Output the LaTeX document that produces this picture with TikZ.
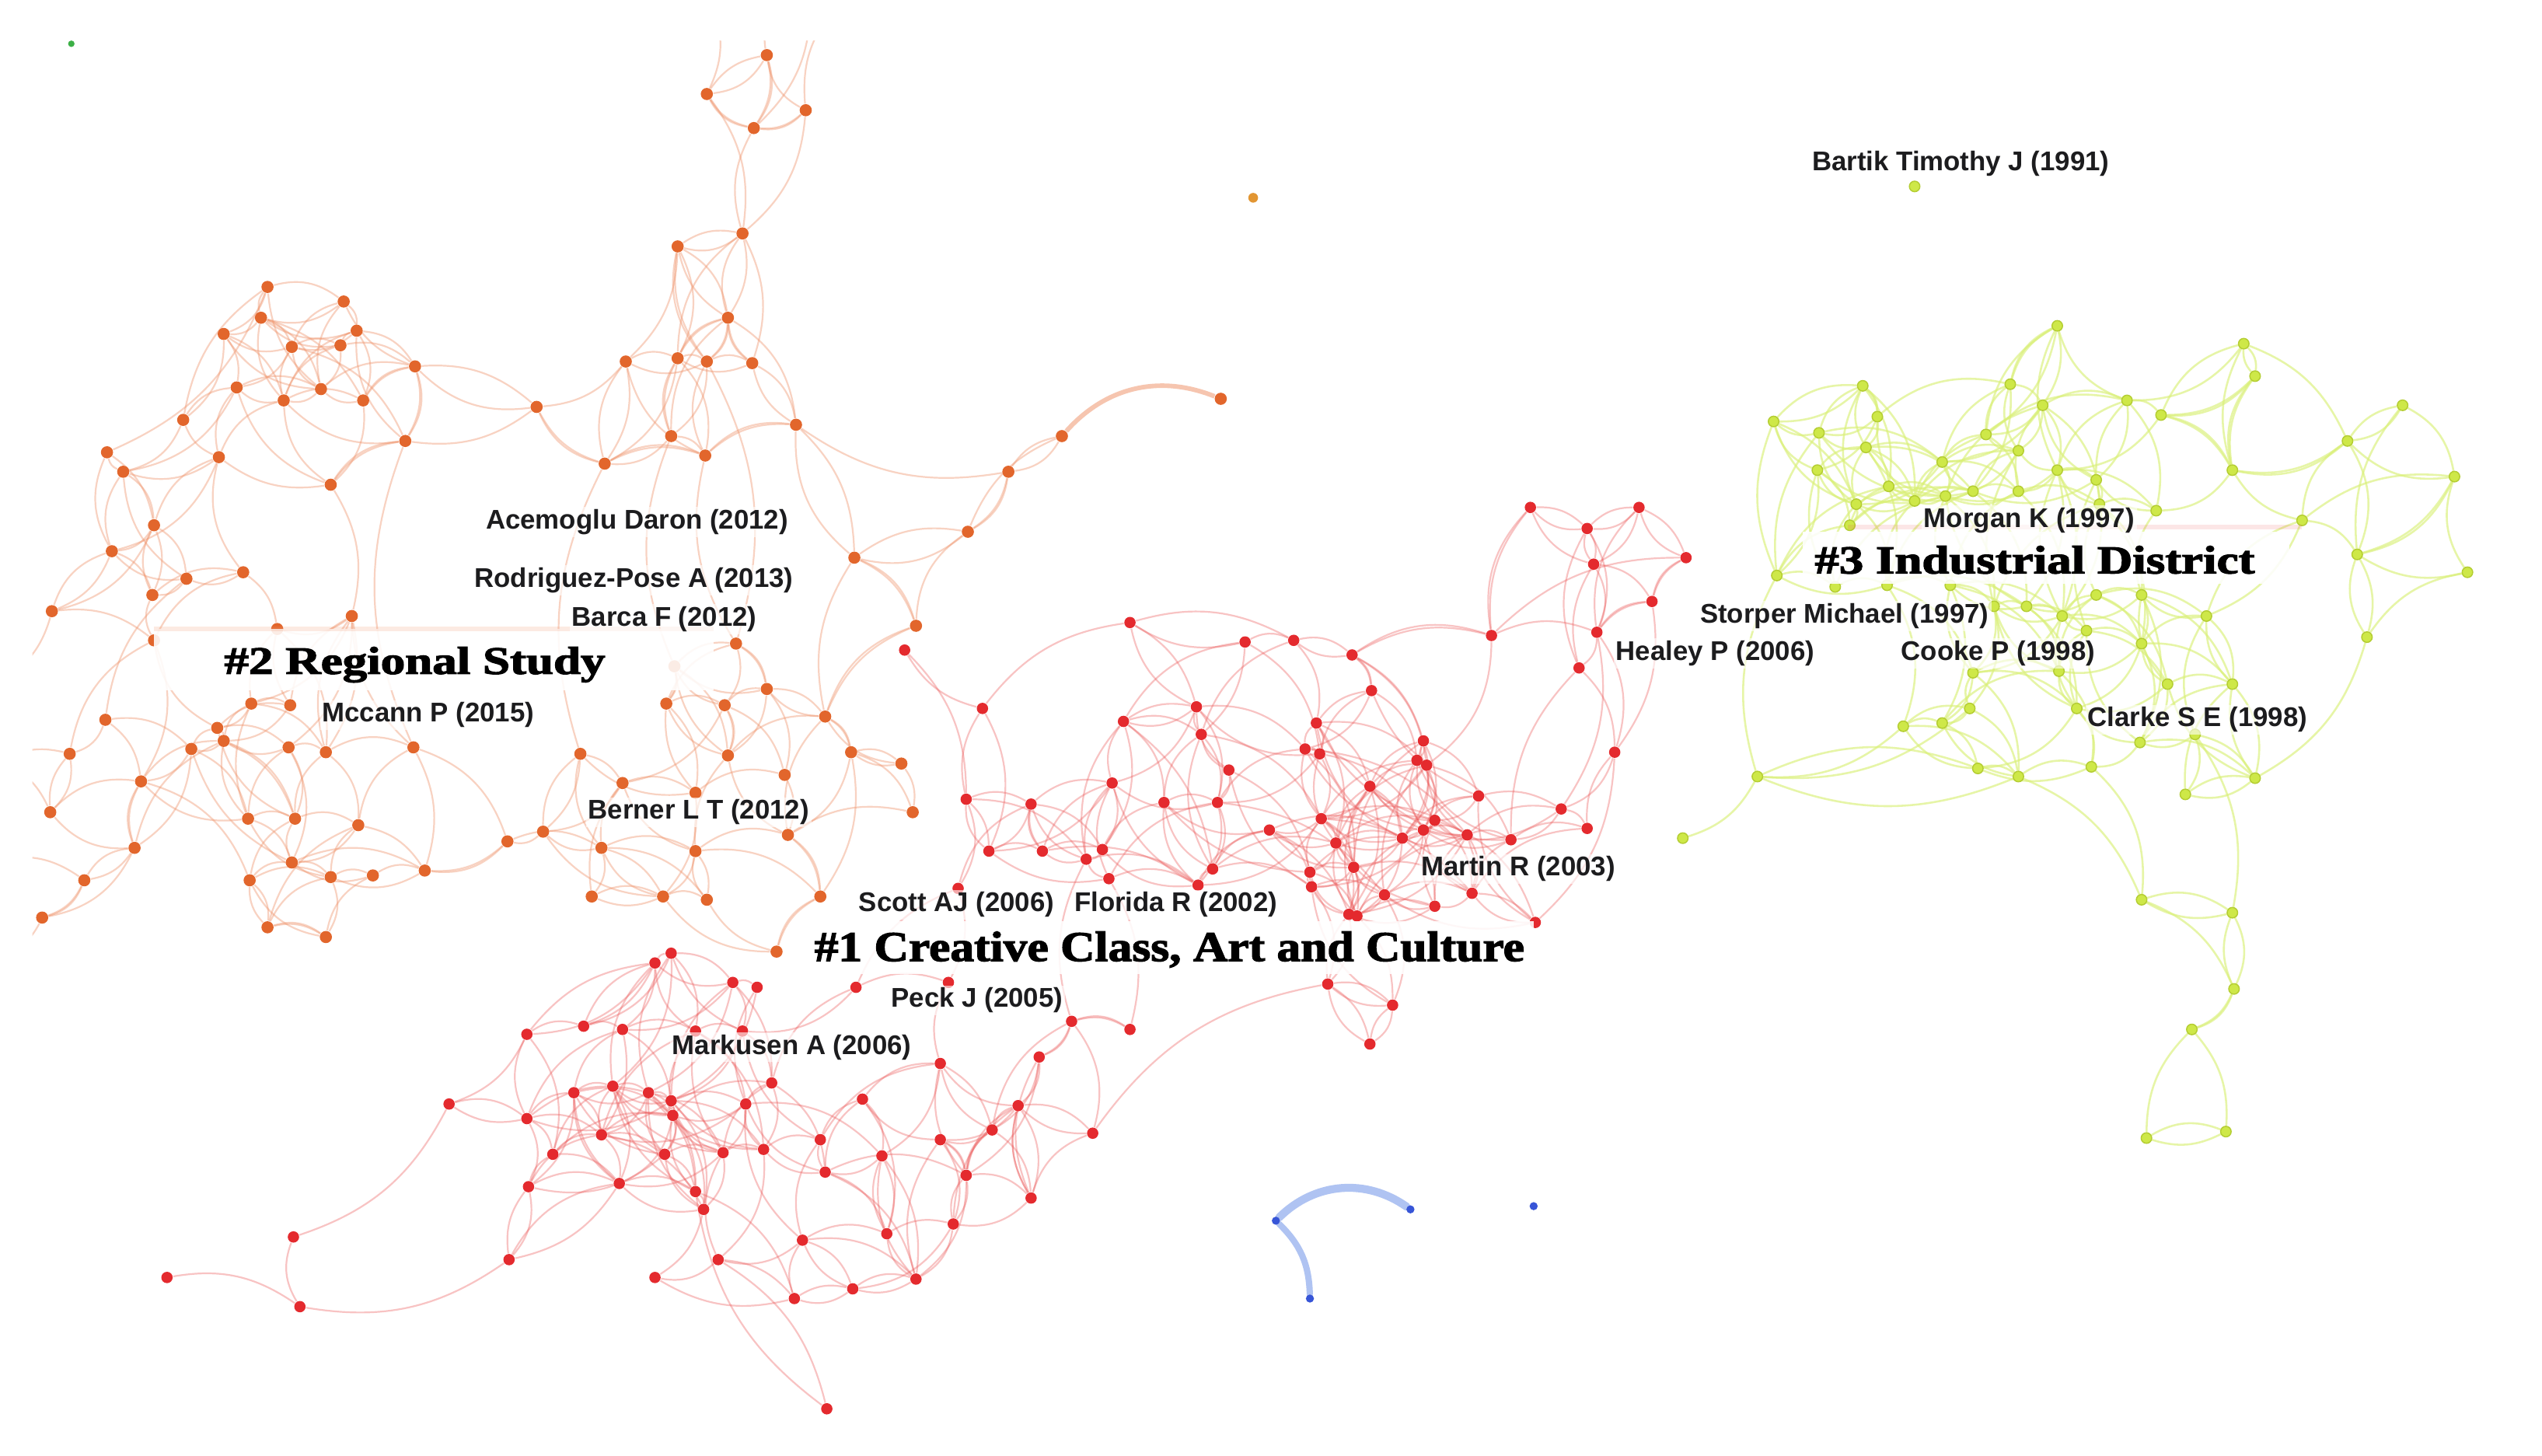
\documentclass[tikz,border=0pt]{standalone}
\usepackage{fontspec}
\setmainfont{Liberation Sans}
\newfontfamily\clusterfont[BoldFeatures={FakeBold=2.2}]{Liberation Serif}
\usepackage{graphicx}
\pgfdeclarelayer{bgl}
\pgfdeclarelayer{edges}
\pgfsetlayers{bgl,edges,main}
\definecolor{onode}{RGB}{226,102,44}
\definecolor{oedge}{RGB}{240,150,110}
\definecolor{rnode}{RGB}{228,42,46}
\definecolor{redge}{RGB}{236,90,90}
\definecolor{gnode}{RGB}{206,232,72}
\definecolor{gring}{RGB}{180,205,50}
\definecolor{gedge}{RGB}{218,240,120}
\definecolor{bnode}{RGB}{55,85,215}
\definecolor{bedge}{RGB}{175,195,242}
\definecolor{amber}{RGB}{226,150,50}
\definecolor{tinygreen}{RGB}{60,176,70}
\definecolor{labink}{RGB}{28,28,30}
\tikzset{
  odot/.style={circle,inner sep=0pt,minimum size=0.15cm,fill=onode},
  rdot/.style={circle,inner sep=0pt,minimum size=0.14cm,fill=rnode},
  gdot/.style={circle,inner sep=0pt,minimum size=0.13cm,fill=gnode,draw=gring,line width=0.4pt},
  bdot/.style={circle,inner sep=0pt,minimum size=0.10cm,fill=bnode},
  oe/.style={draw=oedge,line width=0.6pt,opacity=0.42},
  re/.style={draw=redge,line width=0.6pt,opacity=0.36},
  ge/.style={draw=gedge,line width=0.7pt,opacity=0.65},
  be/.style={draw=bedge,line width=2.8pt,line cap=round},
  reflab/.style={font=\fontsize{9.5}{10}\selectfont\bfseries,text=labink,fill=white,fill opacity=0.6,text opacity=1,inner sep=0.8pt,anchor=west},
  clab/.style={inner sep=0pt,anchor=base west,text=black},
  labbox/.style={fill=white,opacity=0.88},
}
% two-tier linking: short pairs mostly kept, longer pairs sometimes kept
\newcommand{\linkall}[6]{%
  \foreach \i in {#2,...,#3}{%
    \foreach \j in {#2,...,#3}{%
      \ifnum\j>\i\relax
        \pgfpointdiff{\pgfpointanchor{#1\i}{center}}{\pgfpointanchor{#1\j}{center}}%
        \pgfgetlastxy{\dx}{\dy}%
        \pgfmathsetmacro\dd{veclen(\dx,\dy)}%
        \ifdim\dd pt<#5pt\relax
          \pgfmathtruncatemacro\sk{mod(\i*7+\j*5,6)}%
          \def\keep{0}%
          \ifdim\dd pt<#4pt\relax \ifnum\sk>1\relax \def\keep{1}\fi
          \else \ifnum\sk<2\relax \def\keep{1}\fi \fi
          \ifnum\keep=1\relax
            \ifodd\numexpr\i+\j\relax
              \draw[#6] (#1\i) to[bend left=26] (#1\j);
            \else
              \draw[#6] (#1\i) to[bend right=26] (#1\j);
            \fi
          \fi
        \fi
      \fi
    }%
  }%
}
\newcommand{\arclist}[2]{%
  \foreach \a/\b [count=\c] in {#2}{%
    \ifodd\c\relax \draw[#1] (\a) to[bend left=22] (\b); \else \draw[#1] (\a) to[bend right=22] (\b); \fi}}
\begin{document}
\begin{tikzpicture}[x=0.02cm,y=-0.02cm]
\begin{pgfonlayer}{bgl}
\fill[white] (0,0) rectangle (1568,898);
\end{pgfonlayer}
\useasboundingbox (0,0) rectangle (1568,898);
% ---------- nodes ----------
\foreach \px/\py [count=\k] in {473/34,436/58,497/68,465/79,458/144,418/152,165/177,212/186,161/196,138/206,
220/204,180/214,210/213,256/226,146/239,198/240,175/247,224/247,113/259,331/251,
449/196,386/223,418/221,436/223,464/224,491/262,414/269,435/281,250/272,66/279,
135/282,76/291,204/299,373/286,95/324,69/340,150/353,115/357,94/367,32/377,
217/380,171/388,95/395,527/344,565/386,416/411,454/397,473/425,411/434,447/435,
509/442,155/434,179/435,65/444,134/449,138/457,118/462,178/461,201/464,255/461,
43/465,358/465,449/466,525/464,556/471,87/482,384/483,429/489,484/478,31/501,
563/501,153/505,182/505,221/509,486/515,335/513,313/519,371/523,429/525,83/523,
180/532,52/543,154/543,204/541,230/540,262/537,365/553,409/553,436/555,506/553,
26/566,165/572,201/578,479/587,753/246,655/269,622/291,597/328}
  \node[odot] (o\k) at (\px,\py) {};
\foreach \px/\py [count=\k] in {404/594,414/588,452/606,467/609,528/609,325/638,360/633,384/635,429/636,458/636,
476/668,354/674,378/670,400/674,414/679,460/681,415/688,532/678,277/681,325/690,
371/700,506/703,341/712,410/712,446/711,471/709,544/713,509/723,326/732,382/730,
429/735,434/746,181/763,495/765,547/761,314/777,443/777,404/788,565/789,103/788,
526/795,490/801,185/806,510/869,585/606,819/607,859/620,845/644,661/630,697/635,
580/656,641/652,628/682,674/699,612/697,580/703,596/725,636/739,588/755,944/313,
1011/313,979/326,1040/344,983/348,1019/371,920/392,985/390,974/412,697/384,768/396,
798/395,834/404,846/426,606/437,738/436,693/445,741/453,812/446,878/457,805/462,
814/465,874/469,880/472,996/464,758/475,686/483,845/485,912/491,596/493,636/496,
718/495,751/495,963/499,815/505,885/506,979/511,783/512,878/512,905/515,932/518,
824/520,865/517,610/525,643/525,680/524,670/530,748/536,808/538,835/535,684/542,
739/546,809/547,854/552,908/551,885/559,832/564,837/565,947/569,558/401,591/548}
  \node[rdot] (r\k) at (\px,\py) {};
\foreach \px/\py [count=\k] in {1181/115,1269/201,1384/212,1391/232,1149/238,1240/237,1260/250,1312/247,1333/256,1482/250,
1094/260,1158/257,1122/267,1225/268,1151/276,1245/278,1448/272,1198/285,1121/290,1269/290,
1293/296,1377/290,1514/294,1165/300,1200/306,1217/303,1245/303,1181/309,1145/311,1295/311,
1330/315,1141/324,1420/321,1454/342,1522/353,1096/355,1132/362,1164/361,1203/361,1293/367,
1321/367,1230/374,1250/374,1272/380,1361/380,1287/389,1321/397,1460/393,1217/415,1270/414,
1337/422,1377/422,1215/437,1281/437,1174/448,1198/446,1354/453,1320/458,1220/474,1245/479,
1290/473,1084/479,1391/480,1348/490,1038/517,1321/555,1377/563,1378/610,1352/635,1324/702,
1373/698}
  \node[gdot] (g\k) at (\px,\py) {};
\node[bdot] (b1) at (787,753) {};
\node[bdot] (b2) at (870,746) {};
\node[bdot] (b3) at (808,801) {};
\node[bdot] (b4) at (946,744) {};
\node[circle,inner sep=0pt,minimum size=0.08cm,fill=tinygreen] (gx) at (44,27) {};
\node[circle,inner sep=0pt,minimum size=0.12cm,fill=amber] (ax) at (773,122) {};
\coordinate (t1) at (440,5); \coordinate (t2) at (478,5);
\coordinate (t3) at (515,5); \coordinate (t4) at (500,5);
\coordinate (l1) at (0,470); \coordinate (l2) at (0,530);
\coordinate (l3) at (0,590); \coordinate (l4) at (0,420);
% ---------- edges ----------
\begin{pgfonlayer}{edges}
\begin{scope}
\clip (20,25) rectangle (1568,898);
\linkall{o}{1}{98}{34}{52}{oe}
\linkall{r}{1}{120}{32}{52}{re}
\linkall{g}{2}{71}{33}{52}{ge}
\arclist{oe}{o1/t2,o2/t1,o3/t3,o4/t4,o1/o4,o2/o4,o3/o4,o1/o2,o2/o5,o4/o5,o3/o5,o5/o6,o5/o21,o6/o21,o5/o25,o21/o23,o21/o24,o21/o25,o6/o22,o6/o24,o14/o20,o20/o34,o34/o28,o20/o22,o22/o34,o26/o97,o97/o96,o96/o98,o97/o98,o98/o44,o44/o45,o45/o51,o26/o44,o7/o19,o7/o30,o8/o14,o14/o29,o29/o33,o30/o35,o31/o33,o33/o41,o27/o46,o46/o49,o28/o47,o47/o48,o48/o51,o51/o64,o64/o65,o65/o71,o71/o75,o75/o90,o90/o94,o94/o89,o87/o88,o62/o67,o67/o78,o77/o86,o86/o74,o60/o41,o93/o92,o92/o83,o91/o82,o70/o61,o40/o36,o40/o43,o70/l1,o91/l3,o82/l2,o40/l4,o61/l1,o54/o66,o66/o80,o80/o82,o29/o60,o60/o86,o14/o18,o20/o29,o26/o28,o26/o25,o34/o62,o62/o76,o44/o51,o69/o75,o49/o68,o68/o88,o46/o63,o50/o63,o63/o79,o79/o89,o42/o53,o41/o59,o12/o17,o10/o15,o7/o16,o9/o18,o19/o31,o35/o39,o52/o72,o56/o73,o57/o81,o37/o42,o38/o54,o64/o90,o67/o87,o78/o88,o23/o27,o24/o47}
\draw[oe,line width=1.6pt,opacity=0.55] (o96) to[bend left=35] (o95);
\arclist{re}{r40/r43,r43/r36,r36/r29,r36/r30,r19/r33,r19/r6,r20/r19,r38/r42,r42/r41,r41/r39,r44/r31,r44/r37,r54/r46,r46/r47,r46/r48,r47/r48,r69/r71,r69/r74,r74/r119,r69/r70,r60/r62,r61/r62,r62/r64,r63/r65,r61/r63,r65/r67,r66/r67,r66/r72,r66/r63,r64/r68,r68/r84,r84/r96,r84/r118,r71/r72,r72/r73,r75/r76,r89/r103,r90/r104,r5/r45,r45/r51,r51/r55,r55/r57,r57/r59,r59/r35,r58/r53,r52/r49,r49/r50,r53/r54,r27/r39,r120/r5,r120/r45,r7/r1,r6/r1,r12/r30,r29/r23,r38/r32,r37/r42,r34/r41,r89/r74,r73/r78,r70/r77,r75/r69,r119/r89,r73/r88,r67/r93,r68/r100,r65/r84,r60/r66,r118/r113,r99/r118,r114/r118,r106/r49,r110/r50,r116/r46,r117/r47,r53/r58,r56/r57,r22/r28,r27/r35,r11/r16,r72/r79,r78/r95,r80/r99,r91/r108,r92/r113,r86/r111,r76/r107,r85/r112,r97/r116,r101/r115,r94/r114,r87/r100,r88/r93,r103/r110,r104/r111,r9/r25,r14/r31,r15/r26,r17/r32,r13/r24,r8/r21,r2/r10,r3/r11}
\arclist{ge}{g2/g7,g2/g6,g2/g14,g3/g4,g3/g17,g4/g22,g4/g9,g10/g17,g17/g22,g22/g33,g23/g34,g23/g33,g34/g48,g35/g48,g35/g34,g36/g62,g62/g65,g62/g60,g62/g59,g62/g53,g60/g66,g66/g67,g66/g68,g67/g68,g68/g69,g69/g70,g69/g71,g70/g71,g64/g63,g63/g57,g5/g11,g11/g36,g11/g29,g13/g36,g41/g47,g45/g52,g48/g63,g52/g63,g57/g67,g59/g61,g55/g62,g8/g21,g9/g22,g10/g34,g33/g45,g3/g22,g5/g12,g36/g38,g5/g24,g14/g28,g6/g26,g16/g42,g20/g44,g21/g46}
\draw[be] (b1) to[bend left=40] (b2);
\draw[be,line width=2.2pt] (b1) to[bend left=22] (b3);
\end{scope}
\end{pgfonlayer}
% ---------- label boxes ----------
\fill[labbox] (95,388) rectangle (440,426);
\fill[labbox] (497,568) rectangle (946,601);
\fill[labbox] (1112,328) rectangle (1412,360);
\draw[redge,opacity=0.15,line width=1.5pt] (1140,325) -- (1420,325);
\draw[oedge,opacity=0.2,line width=1.5pt] (95,388) -- (440,388);
% ---------- cluster labels ----------
\node[clab] (c2) at (138,415.7) {\resizebox{4.7cm}{0.334cm}{\clusterfont\bfseries\#2 Regional Study}};
\node[clab] (c1) at (502,592.8) {\resizebox{8.76cm}{0.364cm}{\clusterfont\bfseries\#1 Creative Class, Art and Culture}};
\node[clab] (c3) at (1119,353.7) {\resizebox{5.43cm}{0.34cm}{\clusterfont\bfseries\#3 Industrial District}};
% ---------- reference labels ----------
\node[reflab] (lbartik) at (1116,101) {Bartik Timothy J (1991)};
\node[reflab] (lacem) at (298,322) {Acemoglu Daron (2012)};
\node[reflab] (lrodr) at (291,358) {Rodriguez-Pose A (2013)};
\node[reflab] (lbarca) at (351,382) {Barca F (2012)};
\node[reflab] (lmccann) at (197,441) {Mccann P (2015)};
\node[reflab] (lberner) at (361,501) {Berner L T (2012)};
\node[reflab] (lscott) at (528,558) {Scott AJ (2006)};
\node[reflab] (lflorida) at (661,558) {Florida R (2002)};
\node[reflab] (lpeck) at (548,617) {Peck J (2005)};
\node[reflab] (lmark) at (413,646) {Markusen A (2006)};
\node[reflab] (lmartin) at (875,536) {Martin R (2003)};
\node[reflab] (lmorgan) at (1185,321) {Morgan K (1997)};
\node[reflab] (lstorper) at (1047,380) {Storper Michael (1997)};
\node[reflab] (lhealey) at (995,403) {Healey P (2006)};
\node[reflab] (lcooke) at (1171,403) {Cooke P (1998)};
\node[reflab] (lclarke) at (1286,444) {Clarke S E (1998)};
\end{tikzpicture}
\end{document}
